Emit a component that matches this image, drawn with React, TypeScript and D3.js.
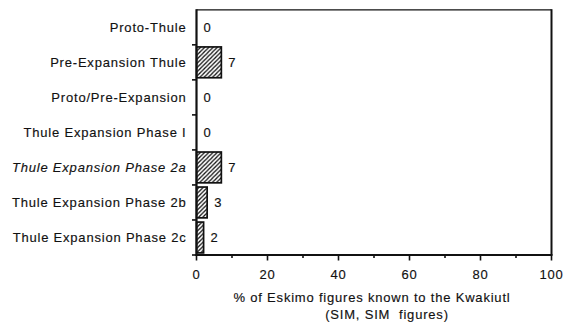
import React from "react";
import * as d3 from "d3";

const categories = [
  "Proto-Thule",
  "Pre-Expansion Thule",
  "Proto/Pre-Expansion",
  "Thule Expansion Phase I",
  "Thule Expansion Phase 2a",
  "Thule Expansion Phase 2b",
  "Thule Expansion Phase 2c",
];
const values = [0, 7, 0, 0, 7, 3, 2];
const italicCats = ["Thule Expansion Phase 2a"];
const majorTicks = [0, 20, 40, 60, 80, 100];
const minorTicks = [10, 30, 50, 70, 90];
const titleLine1 = "% of Eskimo figures known to the Kwakiutl";
const titleLine2 = "(SIM, SIM  figures)";

const W = 563;
const H = 326;
const left = 196.5;
const right = 551.5;
const top = 9.8;
const bottom = 255;

export default function App() {
  const x = d3.scaleLinear().domain([0, 100]).range([left, right]);
  const y = d3
    .scaleBand<string>()
    .domain(categories)
    .range([top, bottom])
    .paddingInner(0.12)
    .paddingOuter(0.06);
  const step = y.step();
  const font = "'Liberation Sans', Arial, Helvetica, sans-serif";
  const ls = "0.8px";
  const textProps = {
    fontSize: 13,
    letterSpacing: ls,
    fill: "#111",
    stroke: "#111",
    strokeWidth: 0.15,
  };

  return (
    <svg
      width={W}
      height={H}
      viewBox={`0 0 ${W} ${H}`}
      style={{ position: "absolute", left: 0, top: 0, background: "#fff" }}
      fontFamily={font}
    >
      <defs>
        <pattern id="hatch" patternUnits="userSpaceOnUse" width={4.2} height={4.2}>
          <path
            d="M-1,1 l2,-2 M0,4.2 l4.2,-4.2 M3.2,5.2 l2,-2"
            stroke="#111"
            strokeWidth={1.3}
          />
        </pattern>
      </defs>

      {/* frame */}
      <line x1={left} x2={right} y1={top} y2={top} stroke="#111" strokeWidth={1.3} />
      <line x1={right} x2={right} y1={top - 0.6} y2={bottom} stroke="#111" strokeWidth={2} />

      {/* bars */}
      {categories.map((c, i) => {
        const v = values[i];
        const y0 = y(c)!;
        return (
          <g key={c}>
            {v > 0 && (
              <rect
                x={x(0)}
                y={y0}
                width={x(v) - x(0)}
                height={y.bandwidth()}
                fill="url(#hatch)"
                stroke="#111"
                strokeWidth={1.7}
              />
            )}
            <text x={x(v) + 7} y={y0 + y.bandwidth() / 2 + 4.6} {...textProps}>
              {v}
            </text>
            <text
              x={186.5}
              y={y0 + y.bandwidth() / 2 + 4.6}
              textAnchor="end"
              fontStyle={italicCats.includes(c) ? "italic" : "normal"}
              {...textProps}
            >
              {c}
            </text>
          </g>
        );
      })}

      {/* y axis */}
      <line x1={left} x2={left} y1={top - 0.6} y2={bottom + 1} stroke="#111" strokeWidth={2.2} />
      {categories.map((c, i) => {
        const yy = top + (i + 1) * step;
        return (
          <line key={"yt" + i} x1={left - 4.5} x2={left} y1={yy} y2={yy} stroke="#111" strokeWidth={1.6} />
        );
      })}

      {/* x axis */}
      <line x1={left - 1} x2={right + 1} y1={bottom} y2={bottom} stroke="#111" strokeWidth={2.2} />
      {majorTicks.map((t) => (
        <g key={"mt" + t}>
          <line x1={x(t)} x2={x(t)} y1={bottom} y2={bottom + 5.5} stroke="#111" strokeWidth={1.6} />
          <text x={x(t)} y={279} textAnchor="middle" {...textProps}>
            {t}
          </text>
        </g>
      ))}
      {minorTicks.map((t) => (
        <line key={"mn" + t} x1={x(t)} x2={x(t)} y1={bottom} y2={bottom + 3} stroke="#111" strokeWidth={1.6} />
      ))}

      {/* axis title */}
      <text x={372} y={302} textAnchor="middle" {...textProps}>
        {titleLine1}
      </text>
      <text x={387} y={319} textAnchor="middle" style={{ whiteSpace: "pre" }} {...textProps}>
        {titleLine2}
      </text>
    </svg>
  );
}
